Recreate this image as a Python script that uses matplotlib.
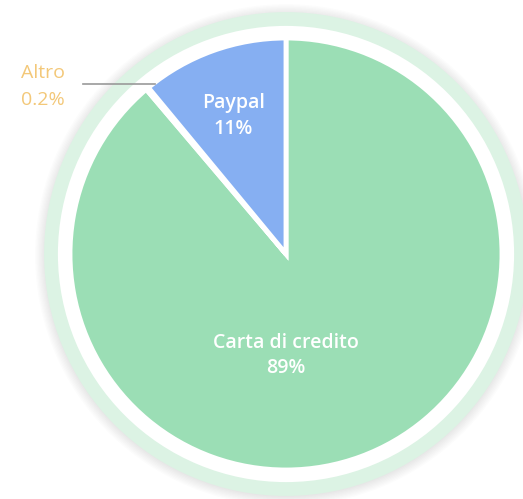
import matplotlib.pyplot as plt
from matplotlib.patches import Circle

# Payment methods share
categories = ['Carta di credito', 'Altro', 'Paypal']
values = [88.8, 0.2, 11.0]
pct_labels = ['89%', '0.2%', '11%']
colors = ['#9bdeb5', '#f3c879', '#86aff2']

plt.rcParams['font.family'] = ['Open Sans', 'DejaVu Sans']

fig = plt.figure(figsize=(5.23, 4.99), dpi=100)
ax = fig.add_axes([0, 0, 1, 1])

# soft shadow + light green halo ring behind the pie
for i in range(8):
    ax.add_patch(Circle((0, -0.005), 1.12 + 0.006 * i, color='#000000', alpha=0.012, lw=0, zorder=0))
ax.add_patch(Circle((0, 0), 1.12, color='#dcf3e4', lw=0, zorder=1))
ax.add_patch(Circle((0, 0), 1.056, color='white', lw=0, zorder=1))

wedges, _ = ax.pie(values, colors=colors, startangle=90, counterclock=False, radius=1,
                   wedgeprops=dict(edgecolor='white', linewidth=3.5))
for w in wedges:
    w.set_zorder(2)

# pie() resets limits, so set them afterwards (1 unit = 216 px, centre at 286,254)
ax.set_xlim(-286 / 216, (523 - 286) / 216)
ax.set_ylim(-(499 - 254) / 216, 254 / 216)
ax.set_aspect('equal')
ax.axis('off')

txt = dict(color='white', fontsize=14, fontweight='semibold', ha='center', va='center', zorder=3)
ax.text(0, -0.41, categories[0], **txt)
ax.text(0, -0.53, pct_labels[0], **txt)
ax.text(-0.245, 0.70, categories[2], **txt)
ax.text(-0.245, 0.58, pct_labels[2], **txt)

# outside label for the tiny slice with leader line
ax.plot([(83 - 286) / 216, (155 - 286) / 216], [(254 - 84) / 216] * 2, color='#999999', lw=1.2, zorder=3)
out = dict(txt, color='#f3c879', fontweight='normal')
ax.text((43 - 286) / 216, (254 - 73) / 216, categories[1], **out)
ax.text((43 - 286) / 216, (254 - 100) / 216, pct_labels[1], **out)

fig.savefig('out.png', dpi=100)
